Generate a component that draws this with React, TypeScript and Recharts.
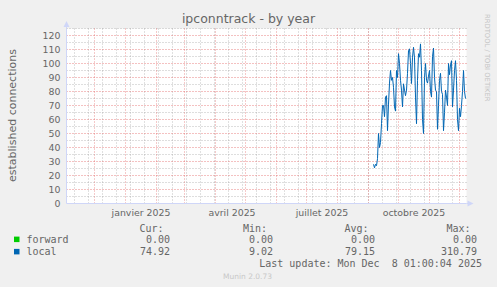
import React from 'react';
import { LineChart, Line, XAxis, YAxis, CartesianGrid, ReferenceLine } from 'recharts';

// x axis: days since 2024-11-03 (400-day window ending 2025-12-08)
const START_DAY = 307;
const localValues = [
  28, 25.5, 28, 27, 32, 50, 40, 43.5, 57, 70,
  70, 62, 76, 77, 52, 71, 86, 95, 88, 90,
  83, 69, 66, 95, 90, 107, 100, 88, 81, 69,
  85.5, 81, 77, 81, 93, 109, 110.5, 100, 85.7, 104.5,
  111.6, 104, 76, 57, 88, 107, 104.5, 114, 95, 60,
  50, 90, 100, 88, 86, 91, 95, 80, 76, 105,
  111, 90, 81, 80, 53, 70, 88, 93, 80, 78,
  52, 65, 81, 76, 70, 100, 92, 99, 102, 69,
  81, 95, 102, 88, 60, 52, 68, 62, 70, 80,
  95, 80, 75,
];
const forwardValues = [
  0, 0, 0, 0, 0, 0, 0, 0, 0, 0,
  0, 0, 0, 0, 0, 0, 0, 0, 0, 0,
  0, 0, 0, 0, 0, 0, 0, 0, 0, 0,
  0, 0, 0, 0, 0, 0, 0, 0, 0, 0,
  0, 0, 0, 0, 0, 0, 0, 0, 0, 0,
  0, 0, 0, 0, 0, 0, 0, 0, 0, 0,
  0, 0, 0, 0, 0, 0, 0, 0, 0, 0,
  0, 0, 0, 0, 0, 0, 0, 0, 0, 0,
  0, 0, 0, 0, 0, 0, 0, 0, 0, 0,
  0, 0, 0,
];

const monthStartDays = [28, 59, 90, 118, 149, 179, 210, 240, 271, 302, 332, 363, 393];
const minorDays = [8, 22, 36, 50, 64, 78, 92, 106, 120, 134, 148, 162, 176, 190, 204, 218, 232, 246, 260, 274, 288, 302, 316, 330, 344, 358, 372, 386];
const xLabelDays = [74.5, 165.5, 255.5, 347.5];
const xLabels = ['janvier 2025', 'avril 2025', 'juillet 2025', 'octobre 2025'];
const yTicks = [0, 10, 20, 30, 40, 50, 60, 70, 80, 90, 100, 110, 120];
const yMajorGrid = [10, 20, 30, 40, 50, 60, 70, 80, 90, 100, 110, 120];
const yMinorGrid = [5, 15, 25, 35, 45, 55, 65, 75, 85, 95, 105, 115, 125];

const seriesNames = ['forward', 'local'];
const seriesColors = ['#00CC00', '#0066B3'];
const curValues = ['0.00', '74.92'];
const minValues = ['0.00', '9.02'];
const avgValues = ['0.00', '79.15'];
const maxValues = ['0.00', '310.79'];
const lastUpdate = 'Last update: Mon Dec  8 01:00:04 2025';

const data = localValues.map((v, i) => ({
  day: START_DAY + i,
  local: v,
  forward: forwardValues[i],
}));

const FONT = 'DejaVu Sans, sans-serif';
const MONO = 'DejaVu Sans Mono, monospace';
const TXT = '#666666';
const AXIS = '#CFD6F8';

export default function App() {
  const colEnds = [170, 273, 375, 477];
  const headEnds = [163.5, 267, 368.5, 470.5];
  const heads = ['Cur:', 'Min:', 'Avg:', 'Max:'];
  const cols = [curValues, minValues, avgValues, maxValues];
  const rowY = [243.3, 255.1];
  const boxY = [236.6, 248.9];
  return (
    <div style={{ position: 'absolute', left: 0, top: 0, width: 497, height: 287, background: '#F0F0F0', fontFamily: FONT }}>
      <LineChart width={497} height={287} data={data} margin={{ top: 28.5, right: 30.5, bottom: 53.5, left: 0 }}>
        <CartesianGrid horizontal={false} vertical={false} fill="#FFFFFF" fillOpacity={1} />
        {yMinorGrid.map((v) => (
          <ReferenceLine key={'ym' + v} y={v} stroke="#8F8F8F" strokeOpacity={0.6} strokeDasharray="1 2" />
        ))}
        {minorDays.map((d) => (
          <ReferenceLine key={'xm' + d} x={d} stroke="#8F8F8F" strokeOpacity={0.55} strokeDasharray="1 2" />
        ))}
        {yMajorGrid.map((v) => (
          <ReferenceLine key={'yM' + v} y={v} stroke="#DE4F4F" strokeOpacity={0.7} strokeDasharray="1 2" />
        ))}
        {monthStartDays.map((d) => (
          <ReferenceLine key={'xM' + d} x={d} stroke="#DE4F4F" strokeOpacity={0.6} strokeDasharray="1 2" />
        ))}
        <XAxis
          type="number"
          dataKey="day"
          domain={[0, 400]}
          allowDataOverflow
          ticks={xLabelDays}
          interval={0}
          height={30}
          tickFormatter={(v) => xLabels[xLabelDays.indexOf(v)] ?? ''}
          tickLine={false}
          tickSize={0}
          tickMargin={5.5}
          axisLine={{ stroke: AXIS }}
          tick={{ fontSize: 9.4, fill: TXT, fontFamily: FONT }}
        />
        <YAxis
          type="number"
          domain={[0, 125]}
          allowDataOverflow
          ticks={yTicks}
          interval={0}
          width={66.5}
          tickLine={false}
          tickSize={0}
          tickMargin={6}
          axisLine={{ stroke: AXIS }}
          tick={{ fontSize: 9.4, fill: TXT, fontFamily: FONT }}
        />
        <Line type="linear" dataKey="forward" stroke={seriesColors[0]} strokeWidth={1} dot={false} activeDot={false} isAnimationActive={false} />
        <Line type="linear" dataKey="local" stroke={seriesColors[1]} strokeWidth={1} dot={false} activeDot={false} isAnimationActive={false} />
      </LineChart>
      <svg width={497} height={287} style={{ position: 'absolute', left: 0, top: 0, pointerEvents: 'none' }}>
        <text x={248.5} y={22.5} textAnchor="middle" fontSize={12.5} fill={TXT} fontFamily={FONT}>ipconntrack - by year</text>
        <text transform="translate(16,115.5) rotate(-90)" textAnchor="middle" fontSize={11} fill={TXT} fontFamily={FONT}>established connections</text>
        <text transform="translate(485,14) rotate(90)" textAnchor="start" fontSize={6.8} fill="#C4C4C4" fontFamily={FONT}>RRDTOOL / TOBI OETIKER</text>
        <line x1={66.5} y1={28.5} x2={66.5} y2={26} stroke={AXIS} />
        <polygon points="63.5,27 69.5,27 66.5,21" fill={AXIS} />
        <line x1={466.5} y1={203.5} x2={468} y2={203.5} stroke={AXIS} />
        <polygon points="467.5,200.5 467.5,206.5 473.5,203.5" fill={AXIS} />
        {heads.map((h, i) => (
          <text key={h} x={headEnds[i]} y={232} textAnchor="end" fontSize={10} fill={TXT} fontFamily={MONO}>{h}</text>
        ))}
        {seriesNames.map((name, r) => (
          <g key={name}>
            <rect x={14} y={boxY[r]} width={5.5} height={5.5} fill={seriesColors[r]} />
            <text x={26.5} y={rowY[r]} fontSize={10} fill={TXT} fontFamily={MONO}>{name}</text>
            {cols.map((c, ci) => (
              <text key={ci} x={colEnds[ci]} y={rowY[r]} textAnchor="end" fontSize={10} fill={TXT} fontFamily={MONO}>{c[r]}</text>
            ))}
          </g>
        ))}
        <text x={482} y={266.8} textAnchor="end" fontSize={10} fill={TXT} fontFamily={MONO} style={{ whiteSpace: 'pre' }}>{lastUpdate}</text>
        <text x={247.5} y={279} textAnchor="middle" fontSize={7.5} fill="#C8C8C8" fontFamily={FONT}>Munin 2.0.73</text>
      </svg>
    </div>
  );
}
